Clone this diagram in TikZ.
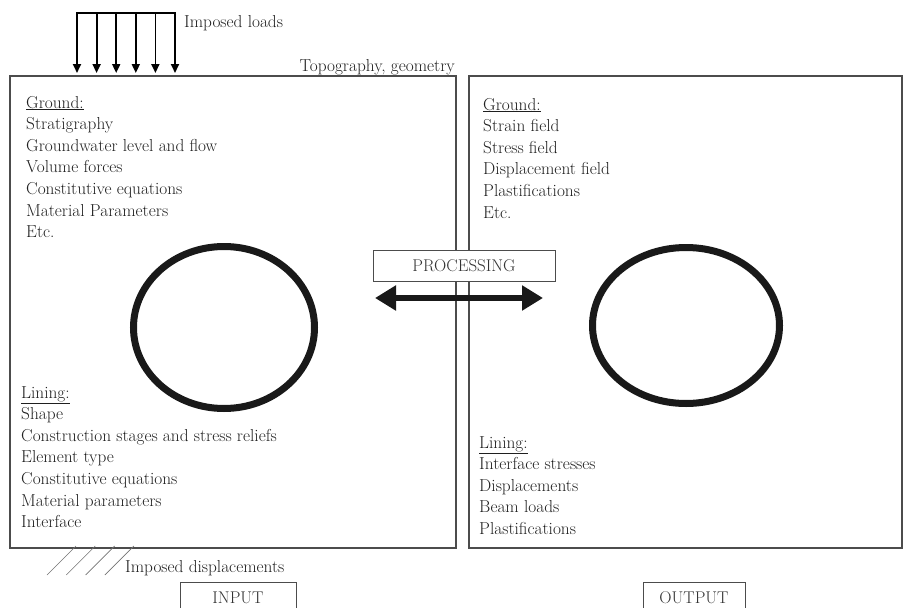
\documentclass[tikz,border=0pt]{standalone}
\usepackage{tikz}
\usetikzlibrary{arrows.meta}

\tikzset{
  item/.style={anchor=base west, inner sep=0pt, text=black!88, font=\fontsize{17.3}{20}\selectfont},
  panel/.style={draw=black!70, line width=1.2pt},
  tag/.style={draw=black!70, line width=1pt, fill=white, text=black!80, inner sep=0pt, font=\fontsize{17}{19}\selectfont},
  ring/.style={draw=black!90, line width=7pt},
}

\begin{document}
\begin{tikzpicture}[x=1pt, y=-1pt]
  \useasboundingbox (0,0) rectangle (903,608);

  % input and output panels
  \draw[panel] (10,76) rectangle (456,548);
  \draw[panel] (469,76) rectangle (902,548);

  % tunnel cross sections
  \draw[ring] (224,327.5) ellipse [x radius=90.5, y radius=81];
  \draw[ring] (686,325.5) ellipse [x radius=93.5, y radius=78];

  % imposed loads on top
  \coordinate (bar-l) at (77,13);
  \coordinate (bar-r) at (175,13);
  \draw[line width=2pt, line cap=rect] (bar-l) -- (bar-r);
  \foreach \i in {0,...,5} {
    \coordinate (top-\i) at ({77+19.6*\i},13);
    \coordinate (tip-\i) at ({77+19.6*\i},73);
    \draw[line width=1.8pt, -{Triangle[length=9pt,width=8pt]}] (top-\i) -- (tip-\i);
  }
  \node[item] (loads) at (184,27) {Imposed loads};
  \node[item, anchor=base east] (topo) at (455,71) {Topography, geometry};

  % imposed displacements at the bottom
  \foreach \i in {0,...,3} {
    \coordinate (hb-\i) at ({47+19.3*\i},575);
    \coordinate (ht-\i) at ({76+19.3*\i},546);
    \draw[black!55, line width=0.6pt] (hb-\i) -- (ht-\i);
  }
  \node[item] (disp) at (125,572) {Imposed displacements};

  % input texts
  \node[item] (gin) at (26,108) {\underline{Ground:}};
  \foreach \txt [count=\i] in {Stratigraphy, Groundwater level and flow, Volume forces,
      Constitutive equations, Material Parameters, Etc.}
    \node[item] (gin-\i) at (26,{108+21.6*\i}) {\txt};
  \node[item] (lin) at (21,398) {\underline{Lining:}};
  \foreach \txt [count=\i] in {Shape, Construction stages and stress reliefs, Element type,
      Constitutive equations, Material parameters, Interface}
    \node[item] (lin-\i) at (21,{398+21.6*\i}) {\txt};

  % output texts
  \node[item] (gout) at (483,110) {\underline{Ground:}};
  \foreach \txt [count=\i] in {Strain field, Stress field, Displacement field,
      Plastifications, Etc.}
    \node[item] (gout-\i) at (483,{110+21.6*\i}) {\txt};
  \node[item] (lout) at (479,448) {\underline{Lining:}};
  \foreach \txt [count=\i] in {Interface stresses, Displacements, Beam loads,
      Plastifications}
    \node[item] (lout-\i) at (479,{448+21.6*\i}) {\txt};

  % processing between the panels
  \node[tag, minimum width=182pt, minimum height=31pt] (proc) at (464,265.5) {PROCESSING};
  \coordinate (arr-l) at (375,298);
  \coordinate (arr-r) at (543,298);
  \draw[black!90, line width=6pt,
    {Triangle[length=21pt,width=24pt]}-{Triangle[length=21pt,width=24pt]}] (arr-l) -- (arr-r);

  % panel titles
  \node[tag, minimum width=116pt, minimum height=32pt] (inp) at (238,598) {INPUT};
  \node[tag, minimum width=102pt, minimum height=32pt] (outp) at (694,598) {OUTPUT};
\end{tikzpicture}
\end{document}
